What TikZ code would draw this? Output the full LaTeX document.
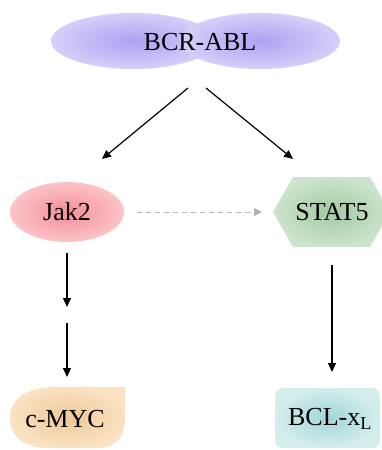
\documentclass[tikz,border=0pt]{standalone}
\usepackage{fontspec}
\setmainfont{Liberation Serif}
\usetikzlibrary{arrows.meta}

\definecolor{bcrin}{RGB}{176,160,242}
\definecolor{bcrout}{RGB}{214,207,249}
\definecolor{jakin}{RGB}{244,142,152}
\definecolor{jakout}{RGB}{251,196,200}
\definecolor{statin}{RGB}{162,202,164}
\definecolor{statout}{RGB}{204,228,204}
\definecolor{mycin}{RGB}{238,200,152}
\definecolor{mycout}{RGB}{250,226,194}
\definecolor{bclin}{RGB}{162,214,214}
\definecolor{bclout}{RGB}{212,237,237}

\tikzset{
	arr/.style = {line width=1.2pt, -{Triangle[length=9pt,width=8pt]}},
	dasharr/.style = {line width=1pt, gray!60, dash pattern=on 5pt off 4pt, -{Triangle[length=8pt,width=8pt]}},
	lbl/.style = {font=\fontsize{26}{30}\selectfont}
}

\begin{document}
\begin{tikzpicture}[x=1pt,y=-1pt]
		\useasboundingbox (0,0) rectangle (381,450);
		% shapes
		\shade[inner color=bcrin, outer color=bcrout] (133,41) ellipse [x radius=82, y radius=28];
		\shade[inner color=bcrin, outer color=bcrout] (260,41) ellipse [x radius=80, y radius=28];
		\shade[inner color=jakin, outer color=jakout] (67,212) ellipse [x radius=57, y radius=30];
		\shade[inner color=statin, outer color=statout] (273,212) -- (293,177) -- (370,177) -- (390,212) -- (370,247) -- (293,247) -- cycle;
		\shade[inner color=mycin, outer color=mycout] (125,387) -- (125,415) .. controls (125,440) and (115,448) .. (95,448) -- (50,448) .. controls (22,448) and (10,435) .. (10,418) .. controls (10,400) and (25,387) .. (55,387) -- cycle;
		\shade[inner color=bclin, outer color=bclout, rounded corners=8pt] (275,388) rectangle (380,448);
		% labels
		\node[lbl] (bcrabl) at (200,42) {BCR-ABL};
		\node[lbl] (jak) at (67,212) {Jak2};
		\node[lbl] (stat) at (332,212) {STAT5};
		\node[lbl] (myc) at (65,419) {c-MYC};
		\node[lbl] (bcl) at (330,419) {BCL-x\textsubscript{L}};
		% arrow ends
		\coordinate (b1) at (188,88);
		\coordinate (b2) at (206,88);
		\coordinate (j1) at (102,159);
		\coordinate (s1) at (293,159);
		\coordinate (ja) at (67,253);
		\coordinate (jb) at (67,307);
		\coordinate (jc) at (67,323);
		\coordinate (jd) at (67,377);
		\coordinate (sa) at (332,265);
		\coordinate (sb) at (332,372);
		\coordinate (da) at (137,212);
		\coordinate (db) at (262,212);
		% arrows
		\draw[arr] (b1) -- (j1);
		\draw[arr] (b2) -- (s1);
		\draw[arr] (ja) -- (jb);
		\draw[arr] (jc) -- (jd);
		\draw[arr] (sa) -- (sb);
		\draw[dasharr] (da) -- (db);
	\end{tikzpicture}
\end{document}
